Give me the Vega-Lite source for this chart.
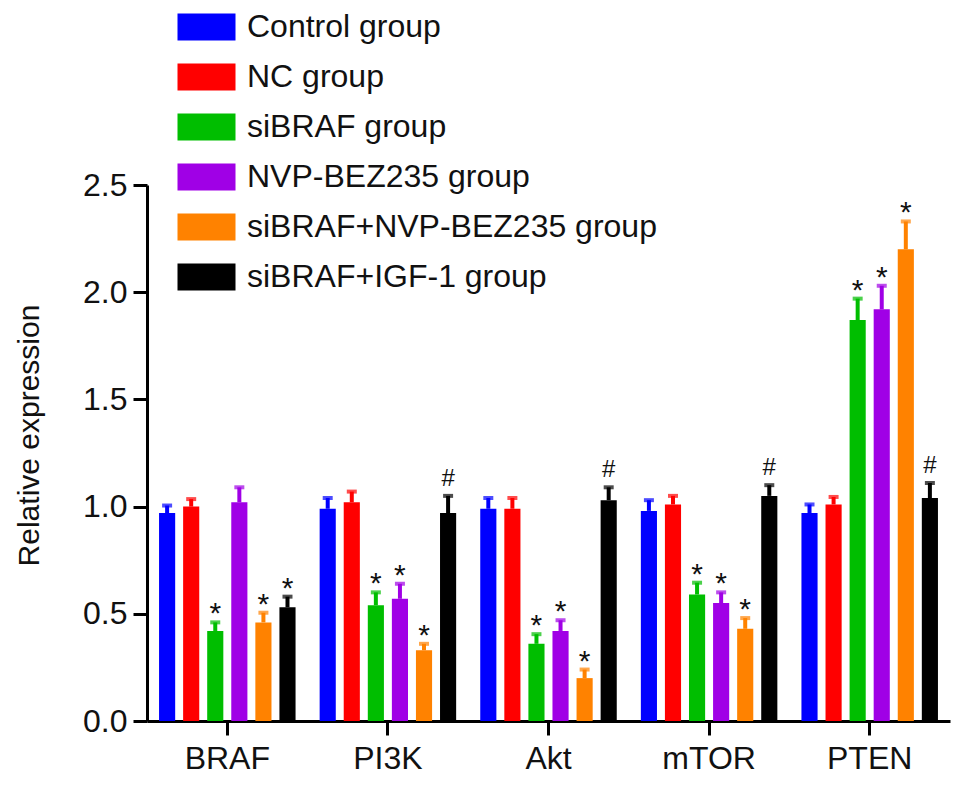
{
  "$schema": "https://vega.github.io/schema/vega-lite/v6.json",
  "autosize": "none",
  "width": 803,
  "height": 536,
  "padding": {"left": 147, "top": 185, "right": 19, "bottom": 68},
  "background": "white",
  "config": {
    "view": {"stroke": null},
    "font": "Liberation Sans",
    "axis": {"domainColor": "black", "domainWidth": 3, "tickColor": "black", "tickWidth": 3, "tickSize": 14, "labelFont": "Liberation Sans", "labelFontSize": 32, "labelColor": "#111", "grid": false},
    "legend": {"padding": 0}
  },
  "data": {"values": [
    {"gene": "BRAF", "group": "Control group", "mean": 0.97, "upper": 1.005, "sig": ""},
    {"gene": "BRAF", "group": "NC group", "mean": 1.0, "upper": 1.035, "sig": ""},
    {"gene": "BRAF", "group": "siBRAF group", "mean": 0.42, "upper": 0.46, "sig": "*"},
    {"gene": "BRAF", "group": "NVP-BEZ235 group", "mean": 1.02, "upper": 1.09, "sig": ""},
    {"gene": "BRAF", "group": "siBRAF+NVP-BEZ235 group", "mean": 0.46, "upper": 0.505, "sig": "*"},
    {"gene": "BRAF", "group": "siBRAF+IGF-1 group", "mean": 0.53, "upper": 0.58, "sig": "*"},
    {"gene": "PI3K", "group": "Control group", "mean": 0.99, "upper": 1.04, "sig": ""},
    {"gene": "PI3K", "group": "NC group", "mean": 1.02, "upper": 1.07, "sig": ""},
    {"gene": "PI3K", "group": "siBRAF group", "mean": 0.54, "upper": 0.6, "sig": "*"},
    {"gene": "PI3K", "group": "NVP-BEZ235 group", "mean": 0.57, "upper": 0.64, "sig": "*"},
    {"gene": "PI3K", "group": "siBRAF+NVP-BEZ235 group", "mean": 0.33, "upper": 0.36, "sig": "*"},
    {"gene": "PI3K", "group": "siBRAF+IGF-1 group", "mean": 0.97, "upper": 1.05, "sig": "#"},
    {"gene": "Akt", "group": "Control group", "mean": 0.99, "upper": 1.04, "sig": ""},
    {"gene": "Akt", "group": "NC group", "mean": 0.99, "upper": 1.04, "sig": ""},
    {"gene": "Akt", "group": "siBRAF group", "mean": 0.36, "upper": 0.405, "sig": "*"},
    {"gene": "Akt", "group": "NVP-BEZ235 group", "mean": 0.42, "upper": 0.47, "sig": "*"},
    {"gene": "Akt", "group": "siBRAF+NVP-BEZ235 group", "mean": 0.2, "upper": 0.24, "sig": "*"},
    {"gene": "Akt", "group": "siBRAF+IGF-1 group", "mean": 1.03, "upper": 1.09, "sig": "#"},
    {"gene": "mTOR", "group": "Control group", "mean": 0.98, "upper": 1.03, "sig": ""},
    {"gene": "mTOR", "group": "NC group", "mean": 1.01, "upper": 1.05, "sig": ""},
    {"gene": "mTOR", "group": "siBRAF group", "mean": 0.59, "upper": 0.645, "sig": "*"},
    {"gene": "mTOR", "group": "NVP-BEZ235 group", "mean": 0.55, "upper": 0.6, "sig": "*"},
    {"gene": "mTOR", "group": "siBRAF+NVP-BEZ235 group", "mean": 0.43, "upper": 0.48, "sig": "*"},
    {"gene": "mTOR", "group": "siBRAF+IGF-1 group", "mean": 1.05, "upper": 1.1, "sig": "#"},
    {"gene": "PTEN", "group": "Control group", "mean": 0.97, "upper": 1.01, "sig": ""},
    {"gene": "PTEN", "group": "NC group", "mean": 1.01, "upper": 1.045, "sig": ""},
    {"gene": "PTEN", "group": "siBRAF group", "mean": 1.87, "upper": 1.97, "sig": "*"},
    {"gene": "PTEN", "group": "NVP-BEZ235 group", "mean": 1.92, "upper": 2.03, "sig": "*"},
    {"gene": "PTEN", "group": "siBRAF+NVP-BEZ235 group", "mean": 2.2, "upper": 2.33, "sig": "*"},
    {"gene": "PTEN", "group": "siBRAF+IGF-1 group", "mean": 1.04, "upper": 1.11, "sig": "#"}
  ]},
  "encoding": {
    "x": {"field": "gene", "type": "nominal", "sort": ["BRAF", "PI3K", "Akt", "mTOR", "PTEN"],
          "scale": {"paddingInner": 0.15, "paddingOuter": 0.075},
          "axis": {"title": null, "labelAngle": 0, "labelPadding": 8}},
    "xOffset": {"field": "group", "type": "nominal",
                "scale": {"domain": ["Control group", "NC group", "siBRAF group", "NVP-BEZ235 group", "siBRAF+NVP-BEZ235 group", "siBRAF+IGF-1 group"], "paddingInner": 0.33, "paddingOuter": 0}}
  },
  "layer": [
    {
      "mark": {"type": "bar"},
      "encoding": {
        "y": {"field": "mean", "type": "quantitative",
              "scale": {"domain": [0, 2.5], "nice": false},
              "axis": {"values": [0, 0.5, 1, 1.5, 2, 2.5], "format": ".1f", "title": "Relative expression", "titleFont": "Liberation Sans", "titleFontSize": 30, "titleFontWeight": "normal", "titleColor": "#111", "titleX": -118, "titleY": 250, "titleAngle": -90, "titleBaseline": "middle", "titleAlign": "center", "labelPadding": 6}},
        "color": {"field": "group", "type": "nominal",
                  "scale": {"domain": ["Control group", "NC group", "siBRAF group", "NVP-BEZ235 group", "siBRAF+NVP-BEZ235 group", "siBRAF+IGF-1 group"],
                            "range": ["#0000FF", "#FF0000", "#00BE00", "#A000E6", "#FF8200", "#000000"]},
                  "legend": {"title": null, "orient": "none", "legendX": 43.5, "legendY": -174, "symbolType": "M-2,-0.93H2V0.93H-2Z", "symbolSize": 841, "symbolStrokeWidth": 0, "symbolOpacity": 1, "labelFontSize": 32, "labelFont": "Liberation Sans", "labelColor": "#111", "labelOffset": 24.5, "rowPadding": 18, "labelLimit": 600}}
      }
    },
    {
      "mark": {"type": "rule", "strokeWidth": 4},
      "encoding": {
        "y": {"field": "mean", "type": "quantitative"},
        "y2": {"field": "upper"},
        "color": {"field": "group", "type": "nominal", "legend": null}
      }
    },
    {
      "mark": {"type": "tick", "size": 10, "thickness": 4, "orient": "horizontal"},
      "encoding": {
        "y": {"field": "upper", "type": "quantitative"},
        "color": {"field": "group", "type": "nominal", "legend": null}
      }
    },
    {
      "transform": [{"filter": "datum.sig == '*'"}],
      "mark": {"type": "text", "fontSize": 30, "font": "Liberation Sans", "color": "#111", "baseline": "alphabetic", "dy": 1},
      "encoding": {
        "y": {"field": "upper", "type": "quantitative"},
        "text": {"field": "sig"}
      }
    },
    {
      "transform": [{"filter": "datum.sig == '#'"}],
      "mark": {"type": "text", "fontSize": 24, "font": "Liberation Sans", "color": "#111", "baseline": "alphabetic", "dy": -10},
      "encoding": {
        "y": {"field": "upper", "type": "quantitative"},
        "text": {"field": "sig"}
      }
    }
  ]
}
